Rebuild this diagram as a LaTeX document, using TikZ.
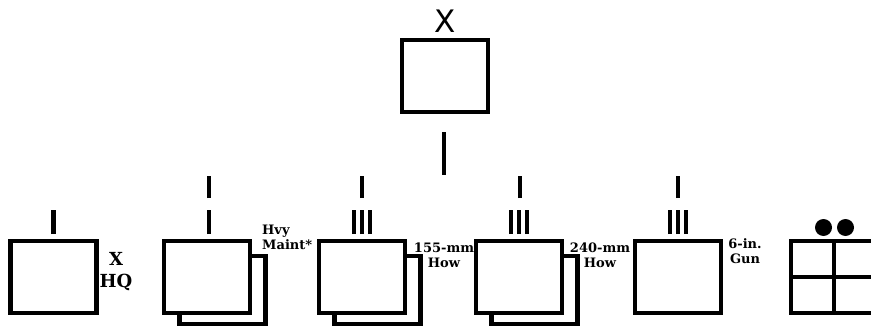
\documentclass[tikz,border=0pt]{standalone}
\usepackage{fontspec}
\newfontfamily\labfont{DejaVu Serif}
\newfontfamily\topfont{DejaVu Sans}
\usetikzlibrary{backgrounds,calc,positioning}

\begin{document}
\begin{tikzpicture}[
  x=1pt,y=-1pt,
  unit/.style={draw,line width=4.5pt,fill=white,minimum width=86pt,minimum height=72pt,inner sep=0pt,outer sep=0pt},
  shadowbox/.style={unit,minimum height=68pt},
  tick/.style={line width=4.5pt},
  lab/.style={font=\labfont\bfseries\fontsize{13}{15}\selectfont,inner sep=0pt,align=center},
  dot/.style={circle,fill=black,minimum size=17pt,inner sep=0pt}
]
  \useasboundingbox (0,0) rectangle (871,329);
  % brigade
  \node[unit] (bde) at (445,76) {};
  \node[above=7pt of bde,inner sep=0pt,font=\topfont\fontsize{31}{36}\selectfont] (bdex) {X};
  \draw[tick] ($(bde.south)+(-1,20)$) -- ($(bde.south)+(-1,63)$);
  % units
  \node[unit] (hq) at (53.5,277) {};
  \node[unit] (maint) at (207,277) {};
  \node[unit] (how155) at (362,277) {};
  \node[unit] (how240) at (519,277) {};
  \node[unit] (gun) at (678,277) {};
  \node[unit,fill=none] (supply) at (834,277) {};
  \begin{scope}[on background layer]
    \foreach \u in {maint,how155,how240}
      \node[shadowbox] (\u sh) at ($(\u)+(15.5,13)$) {};
  \end{scope}
  % echelon marks
  \draw[tick] ($(hq.north)+(0,-7)$) -- ($(hq.north)+(0,-31)$);
  \draw[tick] ($(maint.north)+(2,-7)$) -- ($(maint.north)+(2,-31)$);
  \foreach \u in {how155,how240,gun}
    \foreach \dx in {-8,0,8}
      \draw[tick] ($(\u.north)+(\dx,-7)$) -- ($(\u.north)+(\dx,-31)$);
  \foreach \u/\dx in {maint/2,how155/0,how240/1,gun/0}
    \draw[tick] ($(\u.north)+(\dx,-43)$) -- ($(\u.north)+(\dx,-65)$);
  % supply grid
  \draw[tick] (supply.north) -- (supply.south);
  \draw[tick] (supply.west) -- (supply.east);
  \node[dot] (dotl) at (823.5,227.5) {};
  \node[dot] (dotr) at (845.5,227.5) {};
  % labels
  \node[lab,anchor=north,font=\labfont\bfseries\fontsize{18}{22}\selectfont] (hqlab) at (116,252) {X\\HQ};
  \node[lab,anchor=north west,align=left] (maintlab) at (262,225) {Hvy\\Maint*};
  \node[lab,anchor=north] (how155lab) at (444,243) {155-mm\\How};
  \node[lab,anchor=north] (how240lab) at (600,243) {240-mm\\How};
  \node[lab,anchor=north] (gunlab) at (745,238) {6-in.\\Gun};
\end{tikzpicture}
\end{document}
